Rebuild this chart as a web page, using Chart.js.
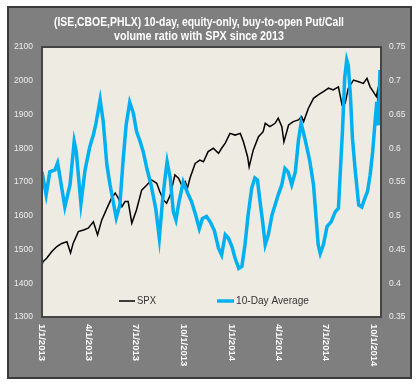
<!DOCTYPE html>
<html>
<head>
<meta charset="utf-8">
<script src="https://cdn.jsdelivr.net/npm/chart.js@4.4.0/dist/chart.umd.min.js"></script>
<style>
  html, body { margin: 0; padding: 0; background: #ffffff; }
  canvas { display: block; }
</style>
</head>
<body>
<canvas id="chart" width="419" height="387"></canvas>
<script>
// tick labels on the date axis
const tickLabels = ['1/1/2013', '4/1/2013', '7/1/2013', '10/1/2013', '1/1/2014', '4/1/2014', '7/1/2014', '10/1/2014'];

// SPX, days since 1/1/2013
const spxDays = [0, 2, 9, 19, 28, 38, 48, 55, 60, 70, 80, 89, 99, 107, 115, 125, 134, 141, 147, 154, 160, 166, 173, 182, 192, 202, 211, 221, 227, 234, 240, 247, 256, 263, 269, 276, 280, 285, 295, 304, 311, 320, 330, 340, 346, 353, 362, 372, 382, 388, 396, 399, 407, 417, 426, 430, 439, 449, 455, 462, 466, 475, 484, 494, 500, 504, 513, 523, 532, 542, 552, 561, 571, 578, 584, 590, 600, 610, 619, 626, 632, 638, 644, 646, 650];
const spxValues = [1454, 1464, 1474, 1494, 1508, 1518, 1523, 1490, 1518, 1553, 1558, 1563, 1582, 1543, 1587, 1622, 1652, 1667, 1652, 1627, 1642, 1642, 1578, 1617, 1676, 1691, 1706, 1696, 1671, 1647, 1637, 1661, 1721, 1711, 1691, 1701, 1681, 1711, 1755, 1765, 1760, 1790, 1800, 1785, 1800, 1815, 1844, 1839, 1844, 1819, 1775, 1745, 1795, 1834, 1849, 1874, 1864, 1874, 1889, 1864, 1819, 1869, 1879, 1884, 1894, 1879, 1918, 1948, 1958, 1968, 1978, 1973, 1982, 1928, 1933, 1978, 2002, 1997, 1992, 2007, 1982, 1968, 1953, 1968, 1869];

// 10-day average put/call ratio, days since 1/1/2013
const ratioDays = [0, 8, 15, 25, 30, 33, 44, 54, 62, 66, 75, 83, 92, 99, 104, 112, 118, 125, 131, 143, 150, 156, 162, 169, 176, 182, 189, 195, 202, 210, 219, 226, 232, 237, 241, 247, 253, 258, 264, 272, 281, 288, 296, 303, 309, 317, 324, 332, 340, 346, 353, 359, 366, 372, 379, 385, 391, 397, 404, 410, 415, 420, 425, 430, 436, 443, 449, 455, 462, 468, 474, 481, 488, 494, 499, 504, 510, 516, 523, 527, 532, 536, 542, 549, 557, 565, 571, 574, 579, 583, 587, 590, 594, 598, 603, 610, 616, 622, 627, 632, 637, 642, 645, 648, 651];
const ratioValues = [0.565, 0.531, 0.565, 0.568, 0.578, 0.565, 0.513, 0.546, 0.610, 0.595, 0.518, 0.568, 0.602, 0.620, 0.637, 0.672, 0.639, 0.575, 0.546, 0.497, 0.516, 0.580, 0.634, 0.668, 0.652, 0.625, 0.610, 0.595, 0.570, 0.546, 0.511, 0.467, 0.521, 0.556, 0.580, 0.556, 0.506, 0.494, 0.521, 0.550, 0.533, 0.521, 0.501, 0.481, 0.496, 0.499, 0.491, 0.478, 0.452, 0.442, 0.472, 0.467, 0.454, 0.437, 0.422, 0.425, 0.457, 0.501, 0.541, 0.556, 0.553, 0.521, 0.491, 0.457, 0.472, 0.501, 0.516, 0.531, 0.546, 0.570, 0.565, 0.546, 0.565, 0.612, 0.637, 0.622, 0.602, 0.580, 0.546, 0.506, 0.457, 0.444, 0.457, 0.484, 0.491, 0.506, 0.511, 0.556, 0.629, 0.704, 0.731, 0.723, 0.679, 0.615, 0.570, 0.516, 0.513, 0.526, 0.536, 0.560, 0.595, 0.644, 0.669, 0.634, 0.716];

const titleLines = ['(ISE,CBOE,PHLX) 10-day, equity-only, buy-to-open Put/Call', 'volume ratio with SPX since 2013'];

function dayOf(label) {
    const [m, d, y] = label.split('/').map(Number);
    return (Date.UTC(y, m - 1, d) - Date.UTC(2013, 0, 1)) / 86400000;
}

const framePlugin = {
    id: 'frame',
    beforeDraw(chart) {
        const ctx = chart.ctx;
        const a = chart.chartArea;
        ctx.save();
        ctx.fillStyle = '#ffffff';
        ctx.fillRect(0, 0, chart.width, chart.height);
        ctx.fillStyle = '#7f7f7f';
        ctx.fillRect(8, 7, 403, 371);
        ctx.strokeStyle = '#3a3a3a';
        ctx.lineWidth = 2;
        ctx.strokeRect(8, 7, 403, 371);
        ctx.fillStyle = '#eeebe2';
        ctx.fillRect(a.left, a.top, a.right - a.left, a.bottom - a.top);
        ctx.restore();
    },
    afterDraw(chart) {
        const ctx = chart.ctx;
        const a = chart.chartArea;
        ctx.save();
        // plot border
        ctx.strokeStyle = '#444444';
        ctx.lineWidth = 2;
        ctx.strokeRect(a.left, a.top, a.right - a.left, a.bottom - a.top);

        // title
        ctx.fillStyle = '#ffffff';
        ctx.font = 'bold 12px "Liberation Sans", sans-serif';
        ctx.textAlign = 'center';
        ctx.textBaseline = 'middle';
        ctx.fillText(titleLines[0], 199, 23, 290);
        ctx.fillText(titleLines[1], 199, 37, 170);

        // date labels, read top to bottom
        const xs = chart.scales.x;
        ctx.font = 'bold 9.5px "Liberation Sans", sans-serif';
        ctx.textAlign = 'left';
        tickLabels.forEach(lbl => {
            const px = xs.getPixelForValue(dayOf(lbl));
            ctx.save();
            ctx.translate(px, 324);
            ctx.rotate(Math.PI / 2);
            ctx.fillText(lbl, 0, 0);
            ctx.restore();
        });

        // legend inside the plot
        const ly = 301;
        ctx.font = '11px "Liberation Sans", sans-serif';
        ctx.textBaseline = 'middle';
        ctx.strokeStyle = '#000000';
        ctx.lineWidth = 1.5;
        ctx.beginPath();
        ctx.moveTo(119, ly);
        ctx.lineTo(135, ly);
        ctx.stroke();
        ctx.fillStyle = '#333333';
        ctx.fillText('SPX', 137, ly, 19);
        ctx.strokeStyle = '#00b0f0';
        ctx.lineWidth = 3.5;
        ctx.beginPath();
        ctx.moveTo(217, ly);
        ctx.lineTo(234, ly);
        ctx.stroke();
        ctx.fillText('10-Day Average', 236, ly, 73);
        ctx.restore();
    }
};

new Chart(document.getElementById('chart'), {
    type: 'line',
    data: {
        datasets: [
            {
                label: '10-Day Average',
                data: ratioDays.map((d, i) => ({ x: d, y: ratioValues[i] })),
                yAxisID: 'y1',
                borderColor: '#00b0f0',
                borderWidth: 3.5,
                pointRadius: 0,
                tension: 0
            },
            {
                label: 'SPX',
                data: spxDays.map((d, i) => ({ x: d, y: spxValues[i] })),
                yAxisID: 'y',
                borderColor: '#000000',
                borderWidth: 1.5,
                pointRadius: 0,
                tension: 0
            }
        ]
    },
    options: {
        responsive: false,
        animation: false,
        devicePixelRatio: 1,
        layout: { padding: { top: 47, left: 0, right: 0, bottom: 0 } },
        plugins: {
            legend: { display: false },
            tooltip: { enabled: false }
        },
        scales: {
            x: {
                type: 'linear',
                min: 0,
                max: 653,
                grid: { display: false, drawTicks: false },
                border: { display: false },
                ticks: { display: false },
                afterFit: s => { s.height = 70; }
            },
            y: {
                position: 'left',
                min: 1300,
                max: 2100,
                grid: { display: false, drawTicks: false },
                border: { display: false },
                ticks: {
                    stepSize: 100,
                    color: '#eeeeee',
                    padding: 9,
                    font: { size: 8.5, family: '"Liberation Sans", sans-serif' },
                    callback: v => String(v)
                },
                afterFit: s => { s.width = 42; }
            },
            y1: {
                position: 'right',
                min: 0.35,
                max: 0.75,
                grid: { display: false, drawTicks: false },
                border: { display: false },
                ticks: {
                    stepSize: 0.05,
                    color: '#eeeeee',
                    padding: 8,
                    font: { size: 8.5, family: '"Liberation Sans", sans-serif' },
                    callback: v => String(Number(v.toFixed(2)))
                },
                afterFit: s => { s.width = 38; }
            }
        }
    },
    plugins: [framePlugin]
});
</script>
</body>
</html>
